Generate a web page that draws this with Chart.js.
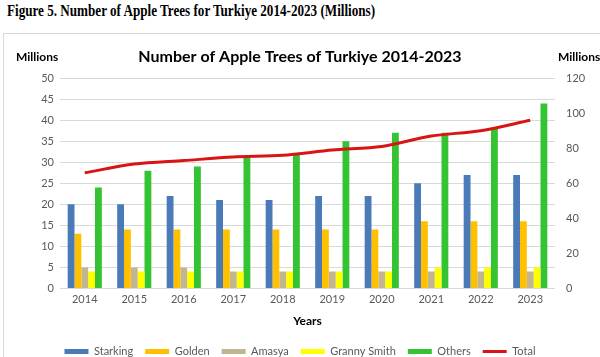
<!DOCTYPE html>
<html>
<head>
<meta charset="utf-8">
<script src="https://cdn.jsdelivr.net/npm/chart.js@4/dist/chart.umd.min.js"></script>
<style>
  html, body { margin: 0; padding: 0; background: #fff; }
  #wrap { position: relative; width: 600px; height: 357px; overflow: hidden; }
  #caption { position: absolute; left: 7px; top: 2px; font-family: "Liberation Serif", "Times New Roman", serif; font-weight: bold; font-size: 16px; color: #000; white-space: nowrap; transform: scaleX(0.82); transform-origin: left top; }
  #box { position: absolute; left: 3px; top: 33px; width: 640px; height: 400px; border: 1px solid #d9d9d9; box-sizing: border-box; }
  #c { position: absolute; left: 0; top: 0; }
</style>
</head>
<body>
<div id="wrap">
  <div id="caption">Figure 5. Number of Apple Trees for Turkiye 2014-2023 (Millions)</div>
  <div id="box"></div>
  <canvas id="c" width="600" height="357"></canvas>
</div>
<script>
const years = ["2014","2015","2016","2017","2018","2019","2020","2021","2022","2023"];
const starking = [20, 20, 22, 21, 21, 22, 22, 25, 27, 27];
const golden = [13, 14, 14, 14, 14, 14, 14, 16, 16, 16];
const amasya = [5, 5, 5, 4, 4, 4, 4, 4, 4, 4];
const grannySmith = [4, 4, 4, 4, 4, 4, 4, 5, 5, 5];
const others = [24, 28, 29, 31, 32, 35, 37, 37, 38, 44];
const total = [66, 71, 73, 75, 76, 79, 81, 87, 90, 96];

const FONT = "Lato, 'Open Sans', sans-serif";

const millionsPlugin = {
  id: 'millions',
  afterDraw(chart) {
    const ctx = chart.ctx;
    const a = chart.chartArea;
    ctx.save();
    ctx.font = "bold 12px " + FONT;
    ctx.fillStyle = "#000";
    ctx.textBaseline = "middle";
    ctx.textAlign = "left";
    ctx.fillText("Millions", 16, a.top - 21);
    ctx.fillText("Millions", 558, a.top - 21);
    ctx.restore();
  }
};

const barBase = { categoryPercentage: 0.69, barPercentage: 1.0, yAxisID: 'y', pointStyle: 'rect', borderWidth: 0 };

new Chart(document.getElementById('c'), {
  data: {
    labels: years,
    datasets: [
      { type: 'line', label: 'Total', data: total, yAxisID: 'y1', borderColor: '#d91414', backgroundColor: '#d91414', borderWidth: 3, pointRadius: 0, tension: 0.3, pointStyle: 'line', order: 0 },
      Object.assign({ type: 'bar', label: 'Starking', data: starking, backgroundColor: '#4a7ab8', order: 1 }, barBase),
      Object.assign({ type: 'bar', label: 'Golden', data: golden, backgroundColor: '#ffc000', order: 1 }, barBase),
      Object.assign({ type: 'bar', label: 'Amasya', data: amasya, backgroundColor: '#c2b592', order: 1 }, barBase),
      Object.assign({ type: 'bar', label: 'Granny Smith', data: grannySmith, backgroundColor: '#ffff00', order: 1 }, barBase),
      Object.assign({ type: 'bar', label: 'Others', data: others, backgroundColor: '#33c333', order: 1 }, barBase)
    ]
  },
  options: {
    responsive: false,
    animation: false,
    layout: { padding: { top: 34, left: 0, right: 0, bottom: -10 } },
    plugins: {
      title: {
        display: true,
        text: 'Number of Apple Trees of Turkiye 2014-2023',
        color: '#000',
        font: { family: FONT, size: 16, weight: 'bold' },
        padding: { top: 13, bottom: 12 }
      },
      legend: {
        position: 'bottom',
        labels: {
          usePointStyle: true,
          pointStyleWidth: 24,
          boxHeight: 5,
          padding: 12,
          color: '#595959',
          font: { family: FONT, size: 11 },
          sort: (a, b) => {
            const order = ['Starking','Golden','Amasya','Granny Smith','Others','Total'];
            return order.indexOf(a.text) - order.indexOf(b.text);
          }
        }
      },
      tooltip: { enabled: false }
    },
    scales: {
      x: {
        grid: { display: false, drawTicks: false },
        border: { display: false },
        ticks: { color: '#595959', font: { family: FONT, size: 11 }, padding: 4 },
        title: { display: true, text: 'Years', color: '#000', font: { family: FONT, size: 12, weight: 'bold' }, padding: { top: 4, bottom: 6 } }
      },
      y: {
        position: 'left',
        min: 0, max: 50,
        ticks: { stepSize: 5, color: '#595959', font: { family: FONT, size: 11 }, padding: 6 },
        grid: { color: '#d9d9d9', drawTicks: false },
        border: { display: false },
        afterFit(s) { s.width = 60; }
      },
      y1: {
        position: 'right',
        min: 0, max: 120,
        ticks: { stepSize: 20, color: '#595959', font: { family: FONT, size: 11 }, padding: 11 },
        grid: { drawOnChartArea: false, drawTicks: false },
        border: { display: false },
        afterFit(s) { s.width = 45; }
      }
    }
  },
  plugins: [millionsPlugin]
});
</script>
</body>
</html>
